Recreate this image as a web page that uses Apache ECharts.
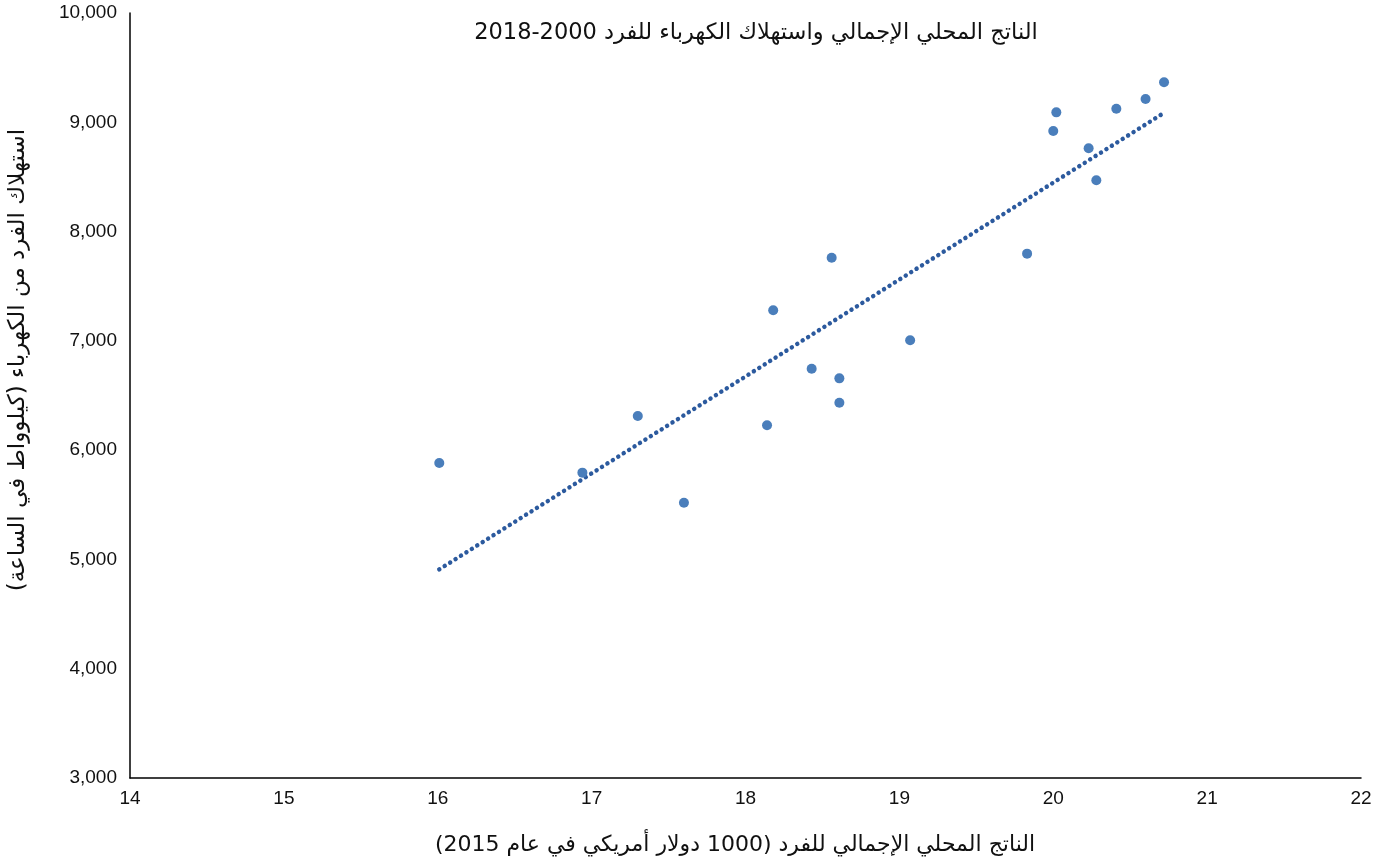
<!DOCTYPE html>
<html dir="rtl">
<head>
<meta charset="utf-8">
<script src="https://cdn.jsdelivr.net/npm/echarts@6/dist/echarts.min.js"></script>
<style>
html,body{margin:0;padding:0;background:#fff;}
#chart{width:1389px;height:864px;}
</style>
</head>
<body>
<div id="chart"></div>
<script>
// ---- data ----
const gdpPerCapita = [16.01, 16.94, 17.30, 17.60, 18.56, 18.18, 19.07, 18.43, 18.61, 18.61, 18.14, 20.72, 20.60, 20.41, 20.02, 20.00, 20.23, 20.28, 19.83];
const electricityPerCapita = [5883, 5794, 6313, 5519, 7761, 7280, 7005, 6745, 6657, 6434, 6227, 9366, 9213, 9124, 9091, 8920, 8762, 8469, 7798];
const xTickLabels = ['14','15','16','17','18','19','20','21','22'];
const yTickLabels = ['3,000','4,000','5,000','6,000','7,000','8,000','9,000','10,000'];
const titleText = 'الناتج المحلي الإجمالي واستهلاك الكهرباء للفرد 2000-2018';
const xAxisName = 'الناتج المحلي الإجمالي للفرد (1000 دولار أمريكي في عام 2015)';
const yAxisName = 'استهلاك الفرد من الكهرباء (كيلوواط في الساعة)';

// ---- linear trend line (least squares, as the spreadsheet trendline) ----
const n = gdpPerCapita.length;
const mx = gdpPerCapita.reduce((a,b)=>a+b,0)/n;
const my = electricityPerCapita.reduce((a,b)=>a+b,0)/n;
let sxy=0, sxx=0;
for(let i=0;i<n;i++){ sxy += (gdpPerCapita[i]-mx)*(electricityPerCapita[i]-my); sxx += (gdpPerCapita[i]-mx)**2; }
const slope = sxy/sxx, icpt = my - slope*mx;
const xMin = Math.min(...gdpPerCapita), xMax = Math.max(...gdpPerCapita);
const trend = [[xMin, icpt+slope*xMin],[xMax, icpt+slope*xMax]];

const points = gdpPerCapita.map((x,i)=>[x, electricityPerCapita[i]]);

const chart = echarts.init(document.getElementById('chart'), null, {renderer:'canvas'});
const labelFont = '"Liberation Sans", Arial, Helvetica, sans-serif';
const arFont = '"DejaVu Sans", "Noto Sans", sans-serif';
chart.setOption({
  animation:false,
  backgroundColor:'#ffffff',
  grid:{left:130, right:28, top:13, bottom:86, containLabel:false},
  xAxis:{
    type:'value', min:14, max:22, interval:1,
    axisLine:{show:true, onZero:false, lineStyle:{color:'#000', width:1.5}},
    axisTick:{show:false},
    splitLine:{show:false},
    axisLabel:{color:'#111', fontFamily:labelFont, fontSize:19, margin:11,
      formatter:v=>xTickLabels[Math.round(v-14)] ?? ''}
  },
  yAxis:{
    type:'value', min:3000, max:10000, interval:1000,
    axisLine:{show:true, onZero:false, lineStyle:{color:'#000', width:1.5}},
    axisTick:{show:false},
    splitLine:{show:false},
    axisLabel:{color:'#111', fontFamily:labelFont, fontSize:19, margin:13,
      formatter:v=>yTickLabels[Math.round((v-3000)/1000)] ?? ''}
  },
  graphic:[
    {type:'text', x:756, y:33, style:{text:titleText, fill:'#111', font:'22.5px '+arFont, textAlign:'center', textVerticalAlign:'middle'}},
    {type:'text', x:735, y:845, style:{text:xAxisName, fill:'#111', font:'22px '+arFont, textAlign:'center', textVerticalAlign:'middle'}},
    {type:'text', x:18, y:360, rotation:Math.PI/2, style:{text:yAxisName, fill:'#111', font:'23px '+arFont, textAlign:'center', textVerticalAlign:'middle'}}
  ],
  series:[
    {type:'line', data:trend, showSymbol:false, symbol:'none', silent:true, z:1,
      lineStyle:{color:'#2c5a9e', width:4.5, type:[0.01,6.4], cap:'round'}},
    {type:'scatter', data:points, symbolSize:10, z:2,
      itemStyle:{color:'#4a7ebb', opacity:1}}
  ]
});
</script>
</body>
</html>
